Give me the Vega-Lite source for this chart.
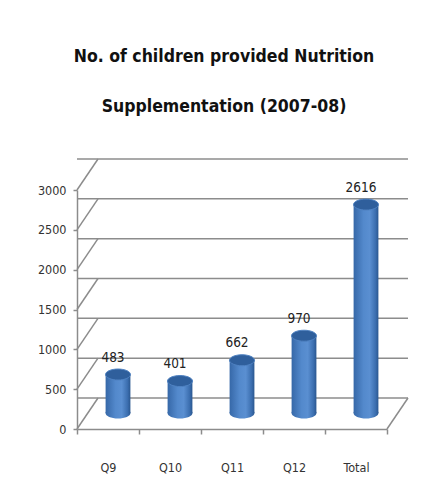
{
  "$schema": "https://vega.github.io/schema/vega-lite/v6.json",
  "width": 310,
  "height": 239,
  "autosize": "none",
  "padding": {"left": 77, "top": 190, "right": 43, "bottom": 75},
  "background": "white",
  "config": {
    "view": {"stroke": null},
    "font": "DejaVu Sans Condensed, sans-serif"
  },
  "title": {
    "text": ["No. of children provided Nutrition", "Supplementation  (2007-08)"],
    "fontSize": 17.5,
    "fontWeight": "bold",
    "lineHeight": 50,
    "frame": "group",
    "anchor": "middle",
    "dx": -8,
    "offset": 43,
    "color": "#111111"
  },
  "resolve": {"axis": {"x": "independent", "y": "independent"}},
  "datasets": {
    "bars": [
      {"q": "Q9", "n": 483},
      {"q": "Q10", "n": 401},
      {"q": "Q11", "n": 662},
      {"q": "Q12", "n": 970},
      {"q": "Total", "n": 2616}
    ],
    "grid": [
      {"v": 0}, {"v": 500}, {"v": 1000}, {"v": 1500}, {"v": 2000}, {"v": 2500}, {"v": 3000}
    ]
  },
  "layer": [
    {
      "data": {"name": "grid"},
      "mark": {"type": "rule", "xOffset": 21, "x2Offset": 21, "yOffset": -31, "stroke": "#8c8c8c", "strokeWidth": 1.5},
      "encoding": {
        "y": {"field": "v", "type": "quantitative", "scale": {"domain": [0, 3000], "nice": false},
          "axis": {"title": null, "values": [0, 500, 1000, 1500, 2000, 2500, 3000], "labelOverlap": false, "format": "d", "grid": false, "tickSize": 4, "labelPadding": 7, "labelFontSize": 12.5, "labelColor": "#333333", "domainColor": "#8c8c8c", "tickColor": "#8c8c8c", "domainWidth": 1.5, "tickWidth": 1.5}}
      }
    },
    {
      "data": {"name": "grid"},
      "mark": {"type": "rule", "x2Offset": 21, "y2Offset": -31, "stroke": "#8c8c8c", "strokeWidth": 1.5},
      "encoding": {
        "x": {"value": 0},
        "x2": {"value": 0},
        "y": {"field": "v", "type": "quantitative", "axis": null},
        "y2": {"field": "v"}
      }
    },
    {
      "data": {"values": [{}]},
      "mark": {"type": "rule", "x2Offset": 21, "y2Offset": -31, "stroke": "#8c8c8c", "strokeWidth": 1.5},
      "encoding": {
        "x": {"value": "width"},
        "x2": {"value": "width"},
        "y": {"datum": 0, "type": "quantitative", "axis": null},
        "y2": {"datum": 0}
      }
    },
    {
      "data": {"name": "bars"},
      "mark": {"type": "point", "filled": true, "opacity": 1, "size": 625, "strokeWidth": 0, "xOffset": 10, "yOffset": -16,
        "shape": "M -1 0 A 1 0.44 0 1 0 1 0 A 1 0.44 0 1 0 -1 0 Z",
        "fill": {"gradient": "linear", "x1": 0, "y1": 0, "x2": 1, "y2": 0,
          "stops": [{"offset": 0, "color": "#3668a8"}, {"offset": 0.4, "color": "#5389cc"}, {"offset": 0.65, "color": "#5a8fd1"}, {"offset": 0.88, "color": "#3c6fb0"}, {"offset": 1, "color": "#2a5790"}]}},
      "encoding": {
        "x": {"field": "q", "type": "nominal", "sort": null, "axis": null},
        "y": {"datum": 0, "type": "quantitative", "axis": null}
      }
    },
    {
      "data": {"name": "bars"},
      "mark": {"type": "bar", "width": {"band": 0.4}, "xOffset": 10, "yOffset": -16, "y2Offset": -16,
        "fill": {"gradient": "linear", "x1": 0, "y1": 0, "x2": 1, "y2": 0,
          "stops": [{"offset": 0, "color": "#3668a8"}, {"offset": 0.4, "color": "#5389cc"}, {"offset": 0.65, "color": "#5a8fd1"}, {"offset": 0.88, "color": "#3c6fb0"}, {"offset": 1, "color": "#2a5790"}]}},
      "encoding": {
        "x": {"field": "q", "type": "nominal", "sort": null,
          "scale": {"paddingInner": 0, "paddingOuter": 0},
          "axis": {"title": null, "labelAngle": 0, "tickBand": "extent", "tickSize": 5, "labelPadding": 27, "labelFontSize": 12.5, "labelColor": "#333333", "domainColor": "#8c8c8c", "tickColor": "#8c8c8c", "domainWidth": 1.5, "tickWidth": 1.5}},
        "y": {"field": "n", "type": "quantitative", "axis": null}
      }
    },
    {
      "data": {"name": "bars"},
      "mark": {"type": "point", "filled": true, "opacity": 1, "size": 625, "stroke": "#4f82c2", "strokeWidth": 1, "xOffset": 10, "yOffset": -16,
        "shape": "M -1 0 A 1 0.44 0 1 0 1 0 A 1 0.44 0 1 0 -1 0 Z",
        "fill": "#2f5f9c"},
      "encoding": {
        "x": {"field": "q", "type": "nominal", "sort": null, "axis": null},
        "y": {"field": "n", "type": "quantitative", "axis": null}
      }
    },
    {
      "data": {"name": "bars"},
      "mark": {"type": "text", "xOffset": 5, "yOffset": -33, "baseline": "middle", "align": "center", "fontSize": 13.5, "color": "#222222"},
      "encoding": {
        "x": {"field": "q", "type": "nominal", "sort": null, "axis": null},
        "y": {"field": "n", "type": "quantitative", "axis": null},
        "text": {"field": "n", "type": "quantitative"}
      }
    }
  ]
}
